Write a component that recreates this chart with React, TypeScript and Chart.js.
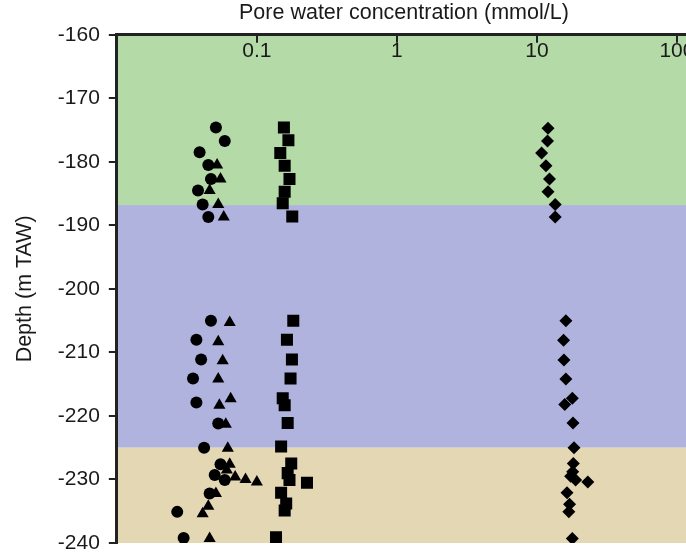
import { useEffect, useRef } from 'react';
import { Chart, registerables } from 'chart.js';

Chart.register(...registerables);

// ---- data (depth in m TAW, concentration in mmol/L) ----
const circleDepth = [-174.6, -176.7, -178.5, -180.5, -182.7, -184.5, -186.7, -188.7, -205.0, -208.0, -211.1, -214.1, -217.9, -221.2, -225.0, -227.6, -229.3, -230.1, -232.2, -235.1, -239.2];
const circleConc = [0.051, 0.059, 0.039, 0.045, 0.047, 0.038, 0.041, 0.045, 0.047, 0.037, 0.040, 0.035, 0.037, 0.053, 0.042, 0.055, 0.050, 0.059, 0.046, 0.027, 0.030];

const triangleDepth = [-180.5, -182.7, -184.5, -186.7, -188.7, -205.3, -208.3, -211.3, -214.2, -217.3, -218.3, -221.3, -225.1, -227.6, -228.5, -229.6, -230.0, -230.4, -232.2, -234.2, -235.4, -239.3];
const triangleConc = [0.052, 0.055, 0.046, 0.053, 0.058, 0.064, 0.053, 0.057, 0.053, 0.065, 0.054, 0.060, 0.062, 0.064, 0.061, 0.070, 0.083, 0.100, 0.051, 0.045, 0.041, 0.046];

const squareDepth = [-174.6, -176.6, -178.6, -180.6, -182.7, -184.7, -186.5, -188.6, -205.0, -208.0, -211.1, -214.1, -217.2, -218.3, -221.1, -224.8, -227.5, -229.0, -230.1, -230.5, -232.1, -233.8, -234.9, -239.1];
const squareConc = [0.156, 0.168, 0.147, 0.158, 0.171, 0.158, 0.153, 0.179, 0.182, 0.164, 0.178, 0.174, 0.153, 0.158, 0.166, 0.149, 0.176, 0.166, 0.171, 0.228, 0.149, 0.162, 0.158, 0.137];

const diamondDepth = [-174.7, -176.7, -178.6, -180.6, -182.7, -184.7, -186.7, -188.7, -205.0, -208.1, -211.2, -214.2, -217.2, -218.2, -221.1, -225.0, -227.5, -228.8, -229.5, -230.1, -230.4, -232.1, -233.9, -235.1, -239.3];
const diamondConc = [12.0, 11.9, 10.8, 11.6, 12.3, 12.0, 13.5, 13.5, 16.1, 15.5, 15.6, 16.1, 17.9, 15.8, 18.1, 18.4, 18.2, 18.0, 17.4, 18.9, 23.1, 16.4, 17.1, 16.9, 17.9];

// ---- axes ----
const xTickValues = [0.1, 1, 10, 100];
const xMin = 0.01;
const xMax = 126;
const yMin = -240;
const yMax = -160;
const yStep = 10;

// ---- background zones ----
const bandTops = [-160, -186.8, -225];
const bandBottoms = [-186.8, -225, -240];
const bandColors = ['#b4daa8', '#b0b3de', '#e4d8b4'];

const xTitle = 'Pore water concentration (mmol/L)';
const yTitle = 'Depth (m TAW)';

const toPoints = (xs: number[], ys: number[]) => xs.map((x, i) => ({ x, y: ys[i] }));

const bandPlugin = {
  id: 'bands',
  beforeDraw(chart: any) {
    const { ctx, chartArea, scales } = chart;
    const y = scales.y;
    ctx.save();
    bandTops.forEach((top, i) => {
      const y1 = y.getPixelForValue(top);
      const y2 = y.getPixelForValue(bandBottoms[i]);
      ctx.fillStyle = bandColors[i];
      ctx.fillRect(chartArea.left, y1, chartArea.right - chartArea.left + 40, y2 - y1);
    });
    ctx.restore();
  },
};

export default function App() {
  const ref = useRef<HTMLCanvasElement | null>(null);

  useEffect(() => {
    if (!ref.current) return;
    const tickFont = { family: '"Liberation Sans", Arial, sans-serif', size: 21 };
    const titleFont = { family: '"Liberation Sans", Arial, sans-serif', size: 21.5 };
    const textColor = '#1a1a1a';
    const common = { pointBackgroundColor: '#000', pointBorderColor: '#000', borderWidth: 0, pointBorderWidth: 0, showLine: false };
    const chart = new Chart(ref.current, {
      type: 'scatter',
      data: {
        datasets: [
          { label: 'Circles', data: toPoints(circleConc, circleDepth), pointStyle: 'circle', pointRadius: 6, ...common },
          { label: 'Triangles', data: toPoints(triangleConc, triangleDepth), pointStyle: 'triangle', pointRadius: 7, ...common },
          { label: 'Squares', data: toPoints(squareConc, squareDepth), pointStyle: 'rect', pointRadius: 8.5, ...common },
          { label: 'Diamonds', data: toPoints(diamondConc, diamondDepth), pointStyle: 'rectRot', pointRadius: 6.5, ...common },
        ],
      },
      options: {
        animation: false,
        responsive: false,
        layout: { padding: { left: 4, top: 0, right: 29, bottom: 32 } },
        plugins: { legend: { display: false }, tooltip: { enabled: false } },
        scales: {
          x: {
            type: 'logarithmic',
            position: 'top',
            min: xMin,
            max: xMax,
            afterBuildTicks: (scale: any) => {
              scale.ticks = xTickValues.map((v) => ({ value: v }));
            },
            ticks: {
              mirror: true,
              padding: 4,
              autoSkip: false,
              maxRotation: 0,
              font: tickFont,
              color: textColor,
              callback: (v: any) => String(v),
            },
            grid: { drawOnChartArea: false, drawTicks: true, tickLength: -8, color: '#222', lineWidth: 2 },
            border: { color: '#222', width: 3 },
            title: { display: true, text: xTitle, font: titleFont, color: textColor, padding: { top: 0, bottom: 9 } },
          },
          y: {
            min: yMin,
            max: yMax,
            ticks: { stepSize: yStep, font: tickFont, color: textColor, padding: 9 },
            grid: { drawOnChartArea: false, drawTicks: true, tickLength: 8, color: '#222', lineWidth: 2 },
            border: { color: '#222', width: 3 },
            title: { display: true, text: yTitle, font: titleFont, color: textColor, padding: { top: 8, bottom: 11 } },
          },
        },
      },
      plugins: [bandPlugin],
    } as any);
    return () => chart.destroy();
  }, []);

  return (
    <div style={{ position: 'fixed', left: 0, top: 0, width: 686, height: 552, overflow: 'hidden', background: '#fff' }}>
      <canvas ref={ref} width={720} height={575} style={{ display: 'block' }} />
    </div>
  );
}
